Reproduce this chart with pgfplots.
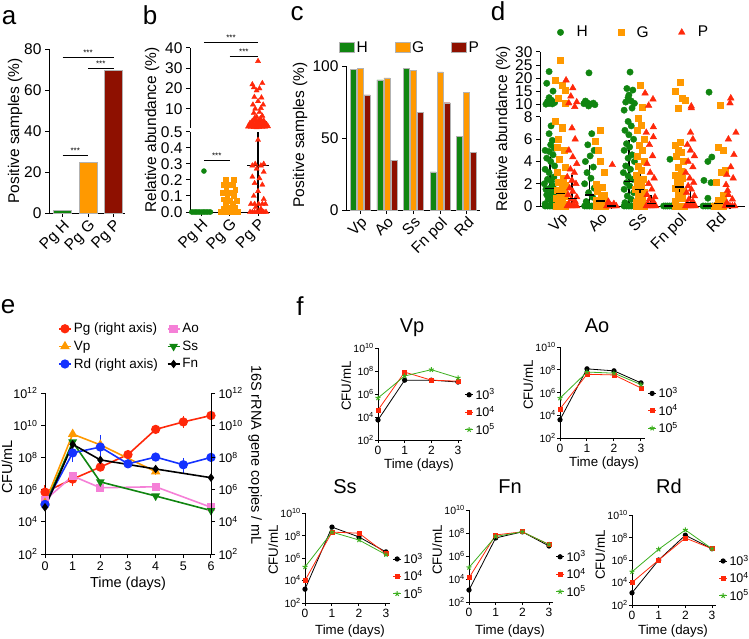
\documentclass[border=0pt]{standalone}
\usepackage{fontspec}
\setmainfont{Liberation Sans}
\usepackage{pgfplots}
\pgfplotsset{compat=1.18}
\usetikzlibrary{plotmarks}

\definecolor{cgreen}{RGB}{16,133,16}
\definecolor{corange}{RGB}{255,153,0}
\definecolor{cdred}{RGB}{142,16,0}
\definecolor{cred}{RGB}{255,40,10}
\definecolor{cblue}{RGB}{20,50,255}
\definecolor{cpink}{RGB}{245,128,215}
\definecolor{flime}{RGB}{60,175,30}

\newcommand{\fL}{\fontsize{26}{26}\selectfont}
\newcommand{\fA}{\fontsize{15.5}{17}\selectfont}
\newcommand{\fE}{\fontsize{13.5}{15}\selectfont}
\newcommand{\fF}{\fontsize{10.5}{12}\selectfont}
\newcommand{\fS}{\fontsize{8}{8}\selectfont}

\pgfplotsset{
  gp/.style={scale only axis, anchor=south west, axis lines*=left,
    tick align=outside, major tick length=4pt, minor tick num=0,
    axis line style={line width=1pt, black},
    major tick style={line width=1pt, black},
    clip=false, /pgf/number format/assume math mode=true,
    tick label style={font=\fA}},
  rotx/.style={xticklabel style={rotate=45, anchor=north east, inner sep=1pt}},
  fax/.style={ymin=1e2, ymax=1e10, xmin=0, xmax=3.15,
    ytick={1e2,1e4,1e6,1e8,1e10},
    yticklabels={10\textsuperscript{2},10\textsuperscript{4},10\textsuperscript{6},10\textsuperscript{8},10\textsuperscript{10}},
    xtick={0,1,2,3}, xticklabels={0,1,2,3},
    major tick length=3pt,
    yticklabel style={font=\fF, inner sep=1pt},
    xticklabel style={font=\fontsize{12}{12}\selectfont},
    legend style={at={(1.03,0.58)}, anchor=north west, draw=none, fill=none,
      font=\fontsize{12.5}{13}\selectfont, row sep=1.5pt, inner sep=0pt},
    legend cell align=left,
    legend image code/.code={\draw[mark repeat=2,mark phase=2,##1] plot coordinates {(0pt,0pt)(4pt,0pt)(8pt,0pt)};}},
  fk/.style={black, line width=0.8pt, mark=*, mark size=2.2pt},
  fr/.style={cred, line width=0.8pt, mark=square*, mark size=2pt},
  fg/.style={flime, line width=0.8pt, mark=star, mark size=2.6pt, mark options={line width=1pt}},
  medbar/.style={only marks, black, mark=-, mark size=4.5pt, mark options={line width=1.3pt},
    error bars/.cd, y dir=both, y explicit,
    error bar style={line width=1.3pt, black},
    error mark options={mark size=3pt, line width=1.3pt, black}},
}

\begin{document}
\begin{tikzpicture}
\useasboundingbox (0pt,0pt) rectangle (749pt,-639pt);

% ---------------- a
\begin{axis}[gp, rotx, at={(49pt,-213pt)}, width=76pt, height=164pt,
  xmin=-0.53, xmax=2.45, ymin=0, ymax=80,
  xtick={0,1,2}, xticklabels={Pg H,Pg G,Pg P}, ytick={0,20,40,60,80}]
\addplot[ybar, bar shift=0pt, bar width=18pt, fill=cgreen, draw=gray!60] coordinates {(0,1.2)};
\addplot[ybar, bar shift=0pt, bar width=18pt, fill=corange, draw=gray!60] coordinates {(1,25)};
\addplot[ybar, bar shift=0pt, bar width=18pt, fill=cdred, draw=gray!60] coordinates {(2,69.5)};
\draw[line width=0.8pt] (axis cs:0,76) -- (axis cs:2,76) node[midway, above, font=\fS, inner sep=1pt] {***};
\draw[line width=0.8pt] (axis cs:1,70.7) -- (axis cs:2,70.7) node[midway, above, font=\fS, inner sep=1pt] {***};
\draw[line width=0.8pt] (axis cs:0,28.3) -- (axis cs:1,28.3) node[midway, above, font=\fS, inner sep=1pt] {***};
\end{axis}

% ---------------- b lower
\begin{axis}[gp, rotx, at={(190pt,-212pt)}, width=80pt, height=80pt,
  xmin=-0.39, xmax=2.42, ymin=0, ymax=0.5,
  xtick={0,1,2}, xticklabels={Pg H,Pg G,Pg P},
  ytick={0,0.1,0.2,0.3,0.4,0.5}, yticklabels={0.0,0.1,0.2,0.3,0.4,0.5}]
\addplot[only marks, mark=*, mark size=2.5pt, cgreen] coordinates {
(-0.33,0)(-0.28,0)(-0.22,0)(-0.17,0)(-0.11,0)(-0.06,0)(0,0)(0.06,0)(0.11,0)(0.17,0)(0.22,0)(0.28,0)(0.33,0)(0.1,0.256)};
\addplot[only marks, mark=square*, mark size=2.4pt, corange] coordinates {
(0.7,0)(0.76,0)(0.82,0)(0.88,0)(0.94,0)(1,0)(1.06,0)(1.12,0)(1.18,0)(1.24,0)(1.3,0)
(0.86,0.2)(1.14,0.2)(0.8,0.17)(0.95,0.17)(1.1,0.17)(1.2,0.14)(0.88,0.14)(0.75,0.12)(1.02,0.12)
(0.92,0.1)(1.15,0.1)(0.8,0.08)(1.25,0.07)(1.0,0.07)(0.86,0.05)(1.1,0.05)(0.95,0.03)(1.2,0.03)(0.78,0.02)(1.05,0.02)};
\addplot[only marks, mark=triangle*, mark size=3pt, cred] coordinates {
(1.72,0)(1.8,0)(1.88,0)(1.96,0)(2.04,0)(2.12,0)(2.2,0)(2.28,0)(2.0,0.45)(1.8,0.29)(1.9,0.3)(2.1,0.29)(2.2,0.3)
(1.95,0.27)(2.2,0.25)(1.8,0.22)(2.05,0.21)(1.88,0.18)(2.15,0.17)(2.0,0.13)(1.85,0.1)(2.2,0.08)
(1.75,0.05)(1.88,0.05)(2.02,0.05)(2.15,0.05)(2.26,0.05)(1.92,0.03)(2.1,0.02)};
\addplot[black, line width=1.2pt] coordinates {(1.62,0.29)(2.38,0.29)};
\addplot[black, line width=1.2pt] coordinates {(2,0)(2,0.5)};
\addplot[black, line width=1.2pt] coordinates {(0.75,0.012)(1.25,0.012)};
\addplot[black, line width=1.2pt] coordinates {(0.9,0.024)(1.1,0.024)};
\draw[line width=0.8pt] (axis cs:0.1,0.325) -- (axis cs:1,0.325) node[midway, above, font=\fS, inner sep=1pt] {***};
\end{axis}

% ---------------- b upper
\begin{axis}[gp, at={(190pt,-128pt)}, width=80pt, height=80pt,
  axis x line=none, axis y line*=left,
  xmin=-0.39, xmax=2.42, ymin=0.5, ymax=40, ytick={10,20,30,40}]
\addplot[only marks, mark=triangle*, mark size=3pt, cred] coordinates {
(1.65,1.2)(1.75,1.0)(1.85,0.9)(1.95,0.8)(2.05,0.9)(2.15,1.0)(2.25,1.1)(2.35,1.3)
(1.7,2)(1.8,1.8)(1.9,1.6)(2.0,1.7)(2.1,1.9)(2.2,2.1)(2.3,2.3)
(1.72,3)(1.82,2.8)(1.92,2.6)(2.02,2.9)(2.12,3.1)(2.22,3.3)
(1.8,4)(1.9,4.3)(2.0,3.8)(2.1,4.4)(2.2,4.1)(1.88,5.4)(2.08,5.2)(1.95,6)(2.15,6.5)
(1.85,7.9)(2.05,8.3)(1.9,10)(2.1,10.3)(1.82,12)(2.18,12)(2.0,13.7)(1.87,15.8)(2.12,15.5)
(1.95,19)(2.05,20)(1.85,20.5)(2.15,22.6)(1.8,22)(2.0,33.5)};
\addplot[black, line width=1.2pt] coordinates {(2,0.5)(2,3.6)};
\addplot[black, line width=1.2pt] coordinates {(1.7,3.6)(2.3,3.6)};
\draw[line width=0.8pt] (axis cs:0.1,43) -- (axis cs:2,43) node[midway, above, font=\fS, inner sep=1pt] {***};
\draw[line width=0.8pt] (axis cs:1,36) -- (axis cs:2,36) node[midway, above, font=\fS, inner sep=1pt] {***};
\end{axis}

% ---------------- c
\begin{axis}[gp, rotx, at={(346pt,-210pt)}, width=134pt, height=144pt,
  ybar, bar width=6pt,
  xmin=-0.53, xmax=4.5, ymin=0, ymax=100, ytick={0,50,100},
  xtick={0,1,2,3,4}, xticklabels={Vp,Ao,Ss,Fn pol,Rd},
  legend style={at={(-0.075,1.2)}, anchor=north west, legend columns=3, draw=none, fill=none,
    font=\fA, /tikz/every even column/.append style={column sep=25pt}},
  legend image code/.code={\draw[#1,/tikz/.cd] (0pt,-5pt) rectangle (15pt,5pt);}]
\addplot[bar shift=-7pt, fill=cgreen, draw=gray!60] coordinates {(0,97.5)(1,90.3)(2,98.6)(3,26.4)(4,51)};
\addplot[bar shift=0pt, fill=corange, draw=gray!60] coordinates {(0,98.5)(1,91.7)(2,97.2)(3,96)(4,81.5)};
\addplot[bar shift=7pt, fill=cdred, draw=gray!60] coordinates {(0,80)(1,34.7)(2,68)(3,74.5)(4,40)};
\legend{H,G,P}
\end{axis}

% ---------------- d lower
\begin{axis}[gp, rotx, at={(540pt,-206pt)}, width=205pt, height=89pt,
  xmin=-0.53, xmax=4.66, ymin=0, ymax=8, ytick={0,2,4,6,8},
  xtick={0,1,2,3,4}, xticklabels={Vp,Ao,Ss,Fn pol,Rd}]
\addplot[only marks, mark=*, mark size=3.2pt, cgreen] coordinates {
(-0.40,0)(-0.34,0)(-0.28,0)(-0.22,0)(-0.16,0)(-0.40,0.2)(-0.22,0.4)(-0.32,0.6)(-0.17,0.8)(-0.36,1.0)(-0.26,1.1)
(-0.15,1.3)(-0.38,1.5)(-0.28,1.6)(-0.2,1.8)(-0.42,2.0)(-0.24,2.2)(-0.34,2.4)(-0.18,2.6)(-0.3,3.0)(-0.4,3.3)
(-0.16,3.6)(-0.26,4.0)(-0.36,4.3)(-0.2,4.6)(-0.3,4.9)(-0.4,5.0)(-0.17,5.2)(-0.26,5.5)(-0.22,5.9)(-0.3,6.5)(-0.25,7.2)
(0.6,0)(0.66,0)(0.72,0)(0.78,0)(0.84,0)(0.64,0.4)(0.8,0.8)(0.7,1.2)(0.84,1.6)(0.6,2.0)(0.76,2.5)(0.66,3.0)
(0.82,3.5)(0.62,4.0)(0.74,4.5)(0.84,5.0)(0.68,5.5)(0.78,6.5)
(1.6,0)(1.66,0)(1.72,0)(1.78,0)(1.84,0)(1.62,0.3)(1.78,0.6)(1.68,0.9)(1.84,1.2)(1.6,1.5)(1.74,1.8)(1.66,2.1)
(1.82,2.4)(1.7,2.7)(1.58,3.0)(1.76,3.3)(1.64,3.6)(1.86,4.0)(1.7,4.3)(1.8,4.6)(1.6,5.0)(1.74,5.3)(1.66,5.6)
(1.84,6.0)(1.72,6.4)(1.62,6.8)(1.78,7.2)(1.7,7.6)
(2.6,0)(2.65,0)(2.7,0)(2.75,0)(2.8,0)(2.85,0)(2.76,4.2)
(3.6,0)(3.66,0)(3.72,0)(3.78,0)(3.84,0)(3.72,4.0)(3.82,4.4)(3.62,2.3)(3.8,2.1)(3.72,0.7)};
\addplot[only marks, mark=square*, mark size=3pt, corange] coordinates {
(-0.12,0)(-0.06,0)(0,0)(0.06,0)(0.12,0)(0.1,0.2)(-0.08,0.4)(0.04,0.5)(-0.12,0.7)(0.12,0.9)(-0.02,1.0)(0.08,1.2)
(-0.1,1.4)(0.02,1.6)(0.11,1.9)(-0.06,2.1)(0.06,2.5)(-0.1,3.0)(0.1,3.5)(-0.04,4.2)(0.08,5.0)(-0.1,5.3)(-0.08,6.0)
(0.04,7.0)(-0.15,7.6)(0.02,7.1)
(0.88,0)(0.94,0)(1,0)(1.06,0)(1.12,0)(0.9,0.1)(1.06,0.2)(0.96,0.3)(1.12,0.4)(0.88,0.5)(1.02,0.7)(1.1,1.0)
(0.92,1.3)(1.04,1.7)(0.9,2.0)(1.1,3.0)(1.0,4.0)(0.94,5.0)(0.86,5.8)(1.0,6.8)
(1.9,0)(1.97,0)(2.03,0)(2.1,0)(1.9,0.3)(2.06,0.6)(1.96,0.9)(2.1,1.2)(1.88,1.5)(2.02,1.8)(1.94,2.1)(2.08,2.4)
(1.9,2.8)(2.04,3.2)(1.96,3.6)(2.1,4.0)(1.92,4.5)(2.06,5.0)(1.98,5.5)(2.1,6.0)(1.92,6.8)(2.03,7.3)(1.95,7.9)
(2.88,0)(2.94,0)(3.0,0)(3.06,0)(3.12,0)(2.9,0.4)(3.06,0.7)(2.96,1.0)(3.1,1.3)(2.88,1.6)(3.02,1.9)(2.94,2.2)
(3.08,2.5)(2.9,2.8)(3.04,3.1)(2.96,3.5)(3.1,4.0)(2.92,4.5)(3.04,4.8)(2.98,5.0)(3.01,5.7)(2.9,5.5)
(3.88,0)(3.94,0)(4.0,0)(4.06,0)(4.12,0)(3.95,0.1)(4.08,0.3)(3.98,0.5)(4.12,1.0)(3.92,2.1)(4.06,3.0)(4.15,3.2)
(3.97,5.3)(4.1,5.0)};
\addplot[only marks, mark=triangle*, mark size=3.8pt, cred] coordinates {
(0.16,0)(0.22,0)(0.28,0)(0.34,0)(0.40,0)(0.2,0.2)(0.36,0.4)(0.26,0.6)(0.4,0.8)(0.18,1.0)(0.3,1.3)(0.22,1.6)
(0.38,2.0)(0.28,2.3)(0.16,2.6)(0.34,3.0)(0.24,3.3)(0.4,3.8)(0.3,4.4)(0.2,5.0)(0.36,6.0)(0.28,7.0)
(1.16,0)(1.2,0)(1.24,0)(1.28,0)(1.32,0)(1.36,0)(1.4,0)(1.24,0.1)(1.34,0.2)(1.2,0.4)(1.3,3.7)
(2.16,0)(2.22,0)(2.28,0)(2.34,0)(2.4,0)(2.2,0.2)(2.34,0.4)(2.24,0.6)(2.38,0.8)(2.18,1.0)(2.3,1.5)(2.22,2.0)
(2.36,2.5)(2.26,3.0)(2.18,3.8)(2.32,4.5)(2.24,5.5)(2.34,6.2)(2.16,6.6)(2.34,7.1)
(3.16,0)(3.22,0)(3.28,0)(3.34,0)(3.4,0)(3.2,0.2)(3.34,0.4)(3.24,0.6)(3.38,0.9)(3.18,1.2)(3.3,1.5)(3.22,1.8)
(3.36,2.1)(3.26,2.5)(3.16,3.0)(3.34,3.5)(3.22,4.0)(3.38,4.5)(3.28,5.0)(3.2,5.5)(3.34,6.0)(3.28,6.6)
(4.16,0)(4.22,0)(4.28,0)(4.34,0)(4.4,0)(4.2,0.3)(4.34,0.6)(4.24,1.0)(4.22,1.4)(4.18,1.9)(4.36,2.5)(4.2,2.8)
(4.3,3.5)(4.38,4.6)(4.24,6.0)(4.43,6.6)};
\addplot[medbar] coordinates {
(-0.28,1.6) += (0,2.5) -= (0,1.6)
(0,1.1) += (0,1.0) -= (0,0.6)
(0.28,0.7) += (0,1.8) -= (0,0.6)
(0.72,1.0) += (0,2.4) -= (0,1.0)
(1,0.45) += (0,0.2) -= (0,0.25)
(1.28,0) += (0,0) -= (0,0)
(1.72,2.2) += (0,3.5) -= (0,2.2)
(2,1.5) += (0,1.2) -= (0,0.7)
(2.28,0.25) += (0,0.45) -= (0,0.2)
(2.72,0) += (0,0) -= (0,0)
(3,1.7) += (0,1.4) -= (0,1.1)
(3.28,0.3) += (0,1.05) -= (0,0.25)
(3.72,0) += (0,0) -= (0,0)
(4,0.25) += (0,0.15) -= (0,0.15)
(4.28,0) += (0,0) -= (0,0)};
\end{axis}

% ---------------- d upper
\begin{axis}[gp, at={(540pt,-112pt)}, width=205pt, height=60pt,
  axis x line=none, axis y line*=left,
  xmin=-0.53, xmax=4.66, ymin=7, ymax=30, ytick={10,15,20,25,30},
  legend style={at={(0.06,1.5)}, anchor=north west, legend columns=3, draw=none, fill=none,
    font=\fA, /tikz/every even column/.append style={column sep=26pt}},
  legend image code/.code={\draw[#1] plot coordinates {(5pt,0pt)}; \path[draw=none, fill=none] (0pt,0pt) -- (19pt,0pt);}]
\addplot[only marks, mark=*, mark size=3.2pt, cgreen] coordinates {
(-0.38,10)(-0.3,10.3)(-0.22,10.1)(-0.16,10.6)(-0.34,11)(-0.24,11.5)(-0.3,12.5)(-0.2,15)(-0.36,18)(-0.3,22.5)
(0.71,22)(0.58,10.2)(0.66,10.6)(0.74,10.0)(0.82,10.4)(0.7,9.3)(0.86,9.8)(0.62,11.2)
(1.75,22.3)(1.67,16)(1.82,15.4)(1.6,7.7)(1.86,10.3)(1.8,8.5)(1.7,12.5)(1.64,10.8)(1.78,11.2)(1.72,13.5)
(3.75,14.6)};
\addplot[only marks, mark=square*, mark size=3pt, corange] coordinates {
(-0.03,27)(-0.15,19.2)(0.02,17.3)(0.1,15.4)(-0.08,12.3)(0.12,10.5)(2.0,17.3)(2.05,9)
(3.01,18.5)(2.89,15)(3.06,12.3)(3.14,11.5)(2.96,8.5)(4.03,9.6)};
\addplot[only marks, mark=triangle*, mark size=3.8pt, cred] coordinates {
(0.13,19.2)(0.3,16.2)(0.2,10.4)(0.4,10.8)(0.25,13)(0.35,9)(2.13,14.2)(2.33,11.9)(2.22,9.5)
(3.3,9.2)(3.3,8.5)(4.3,12.3)(4.28,10.4)};
\legend{H,G,P}
\end{axis}

% ---------------- e
\begin{axis}[gp, at={(45pt,-554pt)}, width=166pt, height=161pt,
  xmin=0, xmax=6, ymode=log, ymin=1e2, ymax=1e12,
  xtick={0,1,2,3,4,5,6}, xticklabels={0,1,2,3,4,5,6},
  ytick={1e2,1e4,1e6,1e8,1e10,1e12},
  yticklabels={10\textsuperscript{2},10\textsuperscript{4},10\textsuperscript{6},10\textsuperscript{8},10\textsuperscript{10},10\textsuperscript{12}},
  tick label style={font=\fontsize{12.5}{13}\selectfont},
  legend style={at={(0.06,1.46)}, anchor=north west, legend columns=2, draw=none, fill=none,
    font=\fE, row sep=2.5pt, /tikz/every even column/.append style={column sep=7pt}},
  legend cell align=left,
  legend image code/.code={\draw[mark repeat=2,mark phase=2,#1] plot coordinates {(0pt,0pt)(6pt,0pt)(12pt,0pt)};},
  error bars/error bar style={line width=1pt},
  error bars/error mark options={mark size=3pt, line width=1pt}]
\addplot[cred, line width=1.6pt, mark=*, mark size=3.8pt,
  error bars/.cd, y dir=both, y explicit] coordinates {
(0,7e5) += (0,5e5) -= (0,3e5)
(1,4.5e6) += (0,2.5e6) -= (0,2e6)
(2,2.5e7) += (0,0) -= (0,0)
(3,1.5e8) += (0,0) -= (0,0)
(4,5.5e9) += (0,0) -= (0,0)
(5,1.6e10) += (0,9e9) -= (0,6e9)
(6,4e10) += (0,0) -= (0,0)};
\addplot[cpink, line width=1.6pt, mark=square*, mark size=3.3pt] coordinates {
(0,2.2e5)(1,7e6)(2,1.3e6)(4,1.5e6)(6,8e4)};
\addplot[corange, line width=1.6pt, mark=triangle*, mark size=4pt,
  error bars/.cd, y dir=both, y explicit] coordinates {
(0,1.5e5) += (0,2e5) -= (0,8e4)
(1,2.8e9) += (0,0) -= (0,0)
(2,6e8) += (0,3e8) -= (0,2e8)
(4,1.3e7) += (0,0) -= (0,0)};
\addplot[cgreen, line width=1.6pt, mark=triangle*, mark size=3.5pt, mark options={rotate=180}] coordinates {
(0,1e5)(1,9e8)(2,3e6)(4,4e5)(6,5e4)};
\addplot[cblue, line width=1.6pt, mark=*, mark size=3.8pt,
  error bars/.cd, y dir=both, y explicit] coordinates {
(0,1.2e5) += (0,0) -= (0,0)
(1,1.9e8) += (0,2.2e8) -= (0,1.1e8)
(2,4.4e8) += (0,1.2e9) -= (0,3e8)
(3,4e7) += (0,0) -= (0,0)
(4,1.05e8) += (0,0) -= (0,0)
(5,3.5e7) += (0,2.5e7) -= (0,2e7)
(6,1e8) += (0,0) -= (0,0)};
\addplot[black, line width=1.6pt, mark=diamond*, mark size=3pt] coordinates {
(0,8e4)(1,6.5e8)(2,7e7)(4,1.9e7)(6,5.5e6)};
\legend{Pg (right axis),Ao,Vp,Ss,Rd (right axis),Fn}
\end{axis}
\begin{axis}[gp, at={(45pt,-554pt)}, width=166pt, height=161pt,
  axis x line=none, axis y line*=right,
  xmin=0, xmax=6, ymode=log, ymin=1e2, ymax=1e12,
  ytick={1e2,1e4,1e6,1e8,1e10,1e12},
  yticklabels={10\textsuperscript{2},10\textsuperscript{4},10\textsuperscript{6},10\textsuperscript{8},10\textsuperscript{10},10\textsuperscript{12}},
  tick label style={font=\fontsize{12.5}{13}\selectfont}]
\end{axis}

% ---------------- f
\begin{axis}[gp, ymode=log, fax, at={(378pt,-440pt)}, width=84pt, height=92pt]
\addplot[fk] coordinates {(0,5.5e3)(1,1.6e7)(2,1.6e7)(3,1.1e7)};
\addplot[fr] coordinates {(0,4e4)(1,8e7)(2,1.6e7)(3,1.3e7)};
\addplot[fg] coordinates {(0,4.5e5)(1,3.7e7)(2,1.3e8)(3,2.5e7)};
\legend{10\textsuperscript{3},10\textsuperscript{4},10\textsuperscript{5}}
\end{axis}
\begin{axis}[gp, ymode=log, fax, at={(560pt,-438pt)}, width=85pt, height=91pt]
\addplot[fk] coordinates {(0,4e3)(1,1.2e8)(2,8e7)(3,7e6)};
\addplot[fr] coordinates {(0,3.6e4)(1,4e7)(2,3.5e7)(3,2.5e6)};
\addplot[fg] coordinates {(0,3.2e5)(1,6.3e7)(2,5e7)(3,5e6)};
\legend{10\textsuperscript{3},10\textsuperscript{4},10\textsuperscript{5}}
\end{axis}
\begin{axis}[gp, ymode=log, fax, at={(305pt,-603pt)}, width=85pt, height=90pt]
\addplot[fk] coordinates {(0,1.7e3)(1,5.6e8)(2,7.4e7)(3,3.5e6)};
\addplot[fr] coordinates {(0,1e4)(1,2e8)(2,1.6e8)(3,2.5e6)};
\addplot[fg] coordinates {(0,1.6e5)(1,2e8)(2,4e7)(3,2e6)};
\legend{10\textsuperscript{3},10\textsuperscript{4},10\textsuperscript{5}}
\end{axis}
\begin{axis}[gp, ymode=log, fax, at={(469pt,-602pt)}, width=84pt, height=92pt]
\addplot[fk] coordinates {(0,1.1e3)(1,3.7e7)(2,1.26e8)(3,7.4e6)};
\addplot[fr] coordinates {(0,1.26e4)(1,6.8e7)(2,1.26e8)(3,1e7)};
\addplot[fg] coordinates {(0,1e5)(1,5e7)(2,1.26e8)(3,1e7)};
\legend{10\textsuperscript{3},10\textsuperscript{4},10\textsuperscript{5}}
\end{axis}
\begin{axis}[gp, ymode=log, fax, at={(632pt,-605pt)}, width=84pt, height=90pt]
\addplot[fk] coordinates {(0,1.2e3)(1,1e6)(2,1.6e8)(3,1e7)};
\addplot[fr] coordinates {(0,1e4)(1,1e6)(2,9e7)(3,1e7)};
\addplot[fg] coordinates {(0,9e4)(1,9e6)(2,4.7e8)(3,1e7)};
\legend{10\textsuperscript{3},10\textsuperscript{4},10\textsuperscript{5}}
\end{axis}

% ---------------- labels
\node[font=\fL, anchor=base] at (9pt,-25pt) {a};
\node[font=\fL, anchor=base] at (150pt,-25pt) {b};
\node[font=\fL, anchor=base] at (297pt,-21pt) {c};
\node[font=\fL, anchor=base] at (498pt,-21pt) {d};
\node[font=\fL, anchor=base] at (8pt,-313pt) {e};
\node[font=\fL, anchor=base] at (300pt,-315pt) {f};

\node[font=\fA, rotate=90] at (15pt,-131pt) {Positive samples (\%)};
\node[font=\fA, rotate=90] at (152pt,-130pt) {Relative abundance (\%)};
\node[font=\fA, rotate=90] at (300pt,-135pt) {Positive samples (\%)};
\node[font=\fA, rotate=90] at (503pt,-129pt) {Relative abundance (\%)};

\node[font=\fontsize{14.5}{15}\selectfont, rotate=90] at (7pt,-467pt) {CFU/mL};
\node[font=\fontsize{14.5}{15}\selectfont, rotate=-90] at (255pt,-455pt) {16S rRNA gene copies / mL};
\node[font=\fontsize{14.5}{15}\selectfont] at (128pt,-584pt) {Time (days)};

\node[font=\fontsize{20}{20}\selectfont, anchor=base] at (412pt,-332pt) {Vp};
\node[font=\fontsize{20}{20}\selectfont, anchor=base] at (597pt,-332pt) {Ao};
\node[font=\fontsize{20}{20}\selectfont, anchor=base] at (345pt,-493pt) {Ss};
\node[font=\fontsize{20}{20}\selectfont, anchor=base] at (510pt,-493pt) {Fn};
\node[font=\fontsize{20}{20}\selectfont, anchor=base] at (669pt,-493pt) {Rd};

\node[font=\fontsize{13.3}{14}\selectfont, rotate=90] at (346pt,-386pt) {CFU/mL};
\node[font=\fontsize{13.3}{14}\selectfont, rotate=90] at (528pt,-385pt) {CFU/mL};
\node[font=\fontsize{13.3}{14}\selectfont, rotate=90] at (273pt,-550pt) {CFU/mL};
\node[font=\fontsize{13.3}{14}\selectfont, rotate=90] at (437pt,-550pt) {CFU/mL};
\node[font=\fontsize{13.3}{14}\selectfont, rotate=90] at (600pt,-555pt) {CFU/mL};

\node[font=\fontsize{13.3}{14}\selectfont] at (419pt,-465pt) {Time (days)};
\node[font=\fontsize{13.3}{14}\selectfont] at (604pt,-463pt) {Time (days)};
\node[font=\fontsize{13.3}{14}\selectfont] at (350pt,-631pt) {Time (days)};
\node[font=\fontsize{13.3}{14}\selectfont] at (510pt,-631pt) {Time (days)};
\node[font=\fontsize{13.3}{14}\selectfont] at (673pt,-631pt) {Time (days)};
\end{tikzpicture}
\end{document}
